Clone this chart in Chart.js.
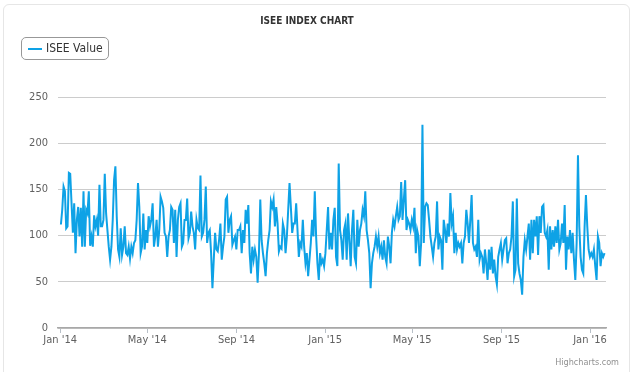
<!DOCTYPE html>
<html>
<head>
<meta charset="utf-8">
<script src="https://cdn.jsdelivr.net/npm/chart.js@4.4.1/dist/chart.umd.min.js"></script>
<style>
  html, body { margin: 0; padding: 0; background: #fff; }
  #wrap { position: relative; width: 634px; height: 372px; overflow: hidden; }
  #frame { position: absolute; left: 3px; top: 4px; width: 627px; height: 380px; border: 1px solid #e6e6e6; border-radius: 6px; box-sizing: border-box; }
  #legend { position: absolute; left: 21px; top: 37px; width: 88px; height: 23px; border: 1px solid #989898; border-radius: 5px; box-sizing: border-box;
            font: 12px "DejaVu Sans Condensed", "DejaVu Sans", sans-serif; color: #333; }
  #legend .swatch { position: absolute; left: 6px; top: 10px; width: 14px; height: 2px; background: #0ea2e6; }
  #legend .text { position: absolute; left: 24px; top: 3px; white-space: nowrap; }
  #credits { position: absolute; right: 15px; top: 357px; font: 9px "DejaVu Sans Condensed", "DejaVu Sans", sans-serif; color: #909090; }
  canvas { position: absolute; left: 0; top: 0; }
</style>
</head>
<body>
<div id="wrap">
  <div id="frame"></div>
  <canvas id="iseeChart" width="634" height="372"></canvas>
  <div id="legend"><span class="swatch"></span><span class="text">ISEE Value</span></div>
  <div id="credits">Highcharts.com</div>
</div>
<script>
// chart constants
const LINE_COLOR = "#0ea2e6";
const FONT = '"DejaVu Sans Condensed", "DejaVu Sans", sans-serif';

// x axis ticks (days since 1 Jan 2014) and their labels
const tickDays = [0, 120, 243, 365, 485, 608, 730];
const tickLabels = ["Jan '14", "May '14", "Sep '14", "Jan '15", "May '15", "Sep '15", "Jan '16"];

// first and last sample, days since 1 Jan 2014
const firstDay = 1;
const lastDay = 750;

// ISEE values, in date order
const valuesJan2014ToAug2014 = [
  112,128,153,148,108,110,168,167,135,103, 135,81,117,131,99,130,88,148,88,128,
  124,148,89,99,88,122,110,117,100,155, 110,110,117,167,124,106,88,74,88,117,
  160,175,121,85,77,108,79,88,110,81, 79,88,75,88,81,92,95,117,157,131,
  81,88,124,85,106,92,121,110,117,135, 88,99,117,88,106,142,137,130,103,99,
  77,99,106,131,128,92,128,77,117,131, 135,88,92,117,117,140,97,103,126,110,
  103,85,117,108,106,165,99,103,117,153, 92,103,106,81,43,74,103,85,83,95,
  113,74,88,99,139,142,103,117,121,90, 95,99,85,106
];
const valuesSep2014ToApr2015 = [
  106,110,81,106,92,128,113,133,81,59, 88,74,85,77,49,81,139,95,81,70,
  56,81,95,106,137,131,139,110,131,113, 83,88,86,113,106,81,99,128,157,131,
  103,113,113,135,106,77,92,88,117,88, 70,81,56,74,92,117,99,148,99,70,
  52,81,70,74,67,81,106,131,85,103, 85,117,130,77,67,178,106,95,74,106,
  113,74,124,95,67,106,128,77,70,117, 88,106,113,128,121,148,106,95,81,43,
  70,81,88,99,88,99,81,88,74,95, 77,70,99,88,70,103,117,110,121,131,
  117,121,158,117,139,160,106,117,113,106, 117,110,130,81,106,99
];
const valuesMay2015ToJan2016 = [
  67,92,220,92,131,135,133,117,99,88, 77,92,99,137,85,99,95,63,117,106,
  92,113,99,146,113,121,81,103,85,92, 88,92,70,92,99,128,113,92,117,144,
  92,85,88,77,117,74,81,77,59,85, 70,52,85,63,88,59,74,56,47,77,
  85,92,74,85,95,97,70,81,85,99, 137,56,63,140,70,59,52,36,77,95,
  85,99,113,74,117,81,117,99,121,79, 121,103,131,133,103,99,106,63,110,85,
  106,88,110,92,117,85,92,113,92,133, 63,99,85,106,81,103,74,52,92,187,
  110,77,63,59,110,144,110,85,77,81, 77,85,67,52,99,92,67,81,77,81
];

const iseeValues = [...valuesJan2014ToAug2014, ...valuesSep2014ToApr2015, ...valuesMay2015ToJan2016];
const dayStep = (lastDay - firstDay) / (iseeValues.length - 1);
const points = iseeValues.map((v, i) => ({ x: firstDay + i * dayStep, y: v }));

const ctx = document.getElementById("iseeChart").getContext("2d");
new Chart(ctx, {
  type: "line",
  data: {
    datasets: [{
      label: "ISEE Value",
      data: points,
      borderColor: LINE_COLOR,
      borderWidth: 2,
      pointRadius: 0,
      tension: 0,
      fill: false,
    }]
  },
  options: {
    responsive: false,
    animation: false,
    layout: { padding: { left: 8, right: 28, top: 0, bottom: 18 } },
    plugins: {
      legend: { display: false },
      tooltip: { enabled: false },
      title: {
        display: true,
        text: "ISEE INDEX CHART",
        color: "#333333",
        font: { family: FONT, size: 10, weight: "bold" },
        padding: { top: 15, bottom: 70 },
      },
    },
    scales: {
      x: {
        type: "linear",
        min: -3,
        max: 752,
        afterBuildTicks: (scale) => {
          scale.ticks = tickDays.map((d) => ({ value: d }));
        },
        afterFit: (scale) => { scale.height = 26; },
        ticks: {
          autoSkip: false,
          maxRotation: 0,
          padding: 1,
          color: "#606060",
          font: { family: FONT, size: 11 },
          callback: (val, idx) => tickLabels[idx],
        },
        grid: { drawOnChartArea: false, drawTicks: true, tickLength: 5, color: "#b8c0c8" },
        border: { color: "#a8a8a8", width: 1.5 },
      },
      y: {
        min: 0,
        max: 250,
        afterFit: (scale) => { scale.width = 50; },
        ticks: {
          stepSize: 50,
          padding: 10,
          color: "#606060",
          font: { family: FONT, size: 11 },
        },
        grid: { color: "#cccccc", drawTicks: false },
        border: { display: false },
      },
    },
  },
});
</script>
</body>
</html>
